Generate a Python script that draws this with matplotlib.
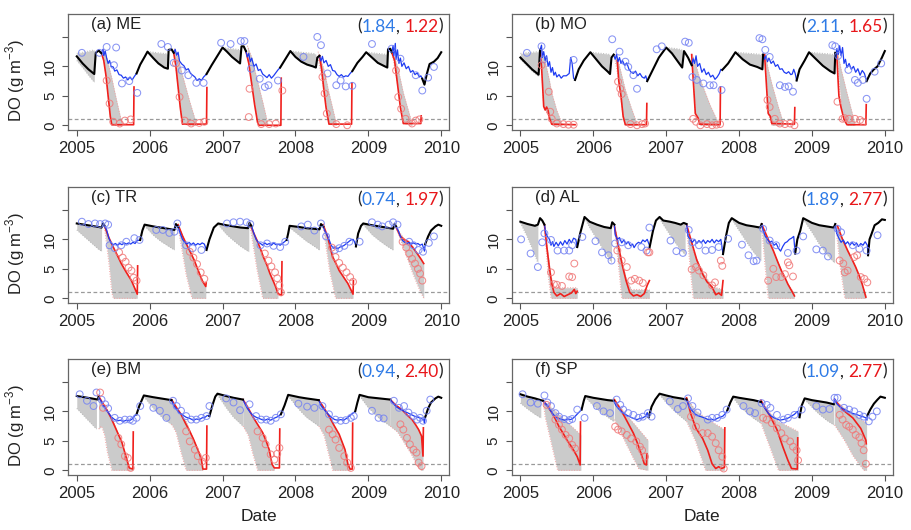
import numpy as np
import matplotlib
matplotlib.use("Agg")
import matplotlib.pyplot as plt

plt.rcParams['font.family'] = ['Liberation Sans', 'DejaVu Sans']
plt.rcParams['mathtext.fontset'] = 'custom'
plt.rcParams['mathtext.rm'] = 'Liberation Sans'

# ---------------------------------------------------------------
# data: (decimal year, DO g m-3); None = gap
# band entries are (year, lower, upper)
# ---------------------------------------------------------------

# (a) ME
me_black = [(2005.00, 11.7), (2005.08, 10.5), (2005.16, 9.5), (2005.24, 8.7), (2005.26, 12.3), (2005.30, 12.7), (2005.34, 12.2), None,
            (2005.82, 8.8), (2005.87, 10.3), (2005.93, 11.6), (2005.97, 12.5), (2006.05, 11.4), (2006.12, 10.5), (2006.20, 9.8), (2006.25, 9.6), (2006.26, 12.8), (2006.30, 12.9), (2006.33, 12.3), None,
            (2006.78, 8.7), (2006.85, 10.2), (2006.93, 11.8), (2007.00, 13.2), (2007.06, 12.5), (2007.13, 11.6), (2007.20, 10.9), (2007.24, 10.5), (2007.26, 13.4), (2007.29, 13.4), (2007.32, 12.6), None,
            (2007.79, 9.8), (2007.85, 11.0), (2007.93, 12.6), (2008.00, 11.6), (2008.08, 10.8), (2008.16, 10.3), (2008.24, 10.0), (2008.28, 9.8), (2008.30, 11.5), (2008.33, 11.8), None,
            (2008.78, 9.2), (2008.85, 10.6), (2008.92, 11.6), (2008.97, 12.4), (2009.05, 11.5), (2009.13, 10.6), (2009.21, 10.1), (2009.26, 9.8), (2009.27, 12.9), (2009.30, 13.0), (2009.32, 12.4), None,
            (2009.74, 7.9), (2009.77, 6.9), (2009.80, 8.6), (2009.84, 10.4), (2009.90, 10.8), (2009.95, 11.4), (2010.00, 12.4)]
me_blue = [(2005.34, 12.3), (2005.36, 12.9), (2005.37, 11.8), (2005.39, 12.6), (2005.41, 11.4), (2005.43, 10.5), (2005.45, 11.0), (2005.47, 10.0), (2005.50, 9.9), (2005.52, 9.2), (2005.55, 9.4), (2005.58, 8.6), (2005.61, 8.5), (2005.64, 8.0), (2005.67, 8.2), (2005.70, 7.7), (2005.73, 8.2), (2005.76, 7.7), (2005.79, 8.3), (2005.82, 8.8), None,
           (2006.33, 12.3), (2006.35, 12.9), (2006.37, 11.9), (2006.39, 12.4), (2006.41, 10.9), (2006.44, 10.4), (2006.47, 10.1), (2006.50, 9.4), (2006.53, 9.6), (2006.56, 8.8), (2006.59, 8.5), (2006.62, 8.2), (2006.65, 7.6), (2006.68, 7.9), (2006.71, 7.6), (2006.74, 8.2), (2006.78, 8.7), None,
           (2007.32, 12.6), (2007.34, 11.6), (2007.36, 12.2), (2007.38, 10.8), (2007.40, 11.4), (2007.43, 10.0), (2007.46, 10.4), (2007.49, 9.3), (2007.52, 9.5), (2007.55, 8.7), (2007.58, 8.4), (2007.61, 8.1), (2007.64, 8.6), (2007.67, 8.0), (2007.70, 8.4), (2007.73, 8.9), (2007.76, 9.4), (2007.79, 9.8), None,
           (2008.33, 11.8), (2008.35, 10.9), (2008.37, 11.7), (2008.39, 10.6), (2008.42, 11.0), (2008.45, 10.0), (2008.48, 10.3), (2008.51, 9.3), (2008.54, 9.2), (2008.57, 8.6), (2008.60, 8.3), (2008.63, 8.6), (2008.66, 8.2), (2008.69, 8.4), (2008.72, 8.3), (2008.75, 8.8), (2008.78, 9.2), None,
           (2009.32, 12.4), (2009.34, 13.5), (2009.35, 11.8), (2009.37, 13.9), (2009.38, 11.2), (2009.40, 12.8), (2009.42, 10.5), (2009.44, 11.4), (2009.46, 10.0), (2009.49, 10.6), (2009.52, 9.6), (2009.55, 10.0), (2009.58, 9.0), (2009.61, 9.3), (2009.64, 8.6), (2009.67, 8.9), (2009.70, 8.2), (2009.72, 8.4), (2009.74, 7.9)]
me_red = [(2005.34, 12.2), (2005.37, 11.0), (2005.40, 8.5), (2005.43, 5.0), (2005.46, 1.5), (2005.48, 0.1), (2005.78, 0.1), (2005.785, 6.5), None,
          (2006.33, 12.3), (2006.36, 10.0), (2006.39, 6.5), (2006.42, 3.0), (2006.45, 0.2), (2006.78, 0.2), (2006.785, 6.4), None,
          (2007.32, 12.6), (2007.36, 10.5), (2007.40, 7.0), (2007.44, 3.5), (2007.48, 0.5), (2007.50, 0.0), (2007.80, 0.0), (2007.805, 8.0), None,
          (2008.33, 11.8), (2008.36, 9.5), (2008.39, 6.0), (2008.42, 3.0), (2008.46, 0.2), (2008.77, 0.2), (2008.775, 7.2), None,
          (2009.32, 12.4), (2009.36, 11.0), (2009.40, 7.0), (2009.44, 3.0), (2009.48, 0.3), (2009.72, 0.3), (2009.725, 1.6)]
me_band = [(2005.00, 11.0, 12.2), (2005.08, 9.8, 12.4), (2005.16, 8.5, 12.6), (2005.24, 7.3, 12.8), None,
           (2005.36, 12.0, 13.0), (2005.40, 8.5, 12.0), (2005.46, 1.5, 9.0), (2005.48, 0.0, 8.0), (2005.55, 0.0, 4.0), (2005.62, 0.0, 0.3), None,
           (2005.97, 12.5, 12.5), (2006.05, 11.4, 12.4), (2006.12, 10.5, 12.3), (2006.20, 9.8, 12.2), (2006.25, 9.6, 12.1), None,
           (2006.34, 12.0, 13.0), (2006.39, 6.5, 11.5), (2006.45, 0.2, 8.5), (2006.55, 0.0, 4.0), (2006.64, 0.0, 0.3), None,
           (2007.00, 13.2, 13.2), (2007.06, 12.5, 13.1), (2007.13, 11.6, 13.0), (2007.20, 10.9, 12.9), (2007.24, 10.5, 12.8), None,
           (2007.34, 12.0, 13.5), (2007.40, 7.0, 11.5), (2007.48, 0.5, 7.5), (2007.55, 0.0, 4.0), (2007.62, 0.0, 0.3), None,
           (2007.93, 12.6, 12.6), (2008.00, 11.6, 12.5), (2008.08, 10.8, 12.4), (2008.16, 10.3, 12.3), (2008.24, 10.0, 12.2), (2008.28, 9.8, 12.1), None,
           (2008.31, 11.5, 12.5), (2008.39, 6.0, 9.5), (2008.46, 0.2, 5.5), (2008.56, 0.0, 0.3), None,
           (2008.97, 12.4, 12.4), (2009.05, 11.5, 12.3), (2009.13, 10.6, 12.2), (2009.21, 10.1, 12.1), (2009.26, 9.8, 12.0), None,
           (2009.33, 12.0, 12.5), (2009.40, 7.0, 10.0), (2009.48, 0.3, 5.5), (2009.60, 0.0, 0.3)]
me_obs_epi = [(2005.07, 12.3), (2005.31, 12.3), (2005.41, 13.3), (2005.54, 13.2), (2005.51, 10.2), (2005.62, 7.1), (2005.72, 7.5), (2005.83, 5.5),
              (2006.16, 13.8), (2006.25, 13.3), (2006.33, 10.6), (2006.44, 9.3), (2006.53, 8.5), (2006.64, 7.2), (2006.74, 7.2),
              (2006.98, 14.0), (2007.11, 13.8), (2007.25, 14.3), (2007.30, 14.3), (2007.39, 9.6), (2007.51, 7.9), (2007.58, 6.5), (2007.63, 6.8), (2007.76, 7.6),
              (2008.11, 11.6), (2008.30, 15.0), (2008.35, 13.6), (2008.44, 8.8), (2008.56, 6.8), (2008.62, 7.6), (2008.69, 6.6), (2008.78, 6.7),
              (2009.05, 13.8), (2009.32, 13.0), (2009.44, 11.3), (2009.65, 8.5), (2009.74, 5.9), (2009.82, 8.1), (2009.90, 9.9)]
me_obs_hyp = [(2005.41, 7.6), (2005.45, 3.7), (2005.50, 0.6), (2005.59, 0.3), (2005.66, 0.8), (2005.74, 1.0),
              (2006.36, 10.5), (2006.41, 4.8), (2006.48, 0.8), (2006.57, 0.3), (2006.68, 0.4), (2006.75, 0.6),
              (2007.36, 1.4), (2007.37, 6.2), (2007.53, 0.2), (2007.64, 0.2), (2007.73, 0.3), (2007.82, 5.9),
              (2008.37, 8.2), (2008.40, 5.4), (2008.43, 2.0), (2008.56, 0.2), (2008.71, 0.0),
              (2009.38, 9.3), (2009.41, 4.8), (2009.45, 2.8), (2009.51, 1.1), (2009.60, 0.3), (2009.65, 0.8), (2009.70, 1.0)]
me_rmse = ("1.84", "1.22")

# (b) MO
mo_black = [(2005.00, 11.5), (2005.08, 10.5), (2005.16, 9.5), (2005.25, 8.6), (2005.27, 12.8), None,
            (2005.75, 7.7), (2005.80, 9.5), (2005.87, 11.0), (2005.96, 12.4), (2006.04, 11.2), (2006.12, 10.0), (2006.20, 9.1), (2006.23, 8.7), (2006.25, 11.5), (2006.28, 12.0), None,
            (2006.74, 7.5), (2006.80, 9.0), (2006.90, 11.5), (2007.00, 13.2), (2007.08, 12.2), (2007.15, 11.0), (2007.22, 9.8), (2007.245, 12.6), (2007.30, 11.5), (2007.35, 10.2), None,
            (2007.77, 9.4), (2007.85, 10.5), (2007.95, 12.4), (2008.05, 11.2), (2008.15, 10.3), (2008.25, 9.9), (2008.32, 9.5), (2008.33, 12.0), None,
            (2008.79, 7.6), (2008.83, 9.5), (2008.90, 11.0), (2008.96, 12.4), (2009.05, 11.3), (2009.15, 10.1), (2009.25, 9.2), (2009.31, 8.8), (2009.32, 12.3), None,
            (2009.75, 7.5), (2009.80, 8.8), (2009.85, 9.5), (2009.90, 10.0), (2009.96, 11.5), (2010.00, 12.6)]
mo_blue = [(2005.27, 12.8), (2005.29, 13.6), (2005.30, 11.5), (2005.32, 12.5), (2005.34, 11.0), (2005.36, 11.8), (2005.38, 10.0), (2005.40, 10.8), (2005.42, 9.0), (2005.44, 9.8), (2005.46, 8.5), (2005.48, 9.0), (2005.50, 8.2), (2005.53, 8.6), (2005.56, 8.0), (2005.59, 8.4), (2005.63, 8.4), (2005.67, 8.8), (2005.69, 11.5), (2005.71, 10.5), (2005.73, 8.0), (2005.75, 7.7), None,
           (2006.28, 12.0), (2006.30, 11.2), (2006.32, 12.0), (2006.34, 10.8), (2006.36, 11.5), (2006.38, 10.5), (2006.40, 11.0), (2006.43, 10.2), (2006.46, 10.6), (2006.49, 9.5), (2006.52, 9.0), (2006.55, 8.8), (2006.58, 9.2), (2006.61, 8.4), (2006.64, 8.8), (2006.67, 8.2), (2006.70, 8.0), (2006.72, 8.4), (2006.74, 7.5), None,
           (2007.35, 10.2), (2007.37, 11.3), (2007.39, 10.5), (2007.41, 11.8), (2007.43, 10.0), (2007.46, 10.5), (2007.49, 9.0), (2007.52, 9.6), (2007.55, 8.6), (2007.58, 9.0), (2007.61, 8.2), (2007.64, 8.5), (2007.67, 7.8), (2007.70, 8.2), (2007.73, 8.8), (2007.75, 9.5), (2007.77, 9.4), None,
           (2008.33, 12.0), (2008.35, 11.2), (2008.37, 11.8), (2008.39, 10.8), (2008.41, 11.4), (2008.44, 10.5), (2008.47, 10.9), (2008.50, 10.0), (2008.53, 10.3), (2008.56, 9.5), (2008.59, 9.6), (2008.62, 9.0), (2008.65, 8.8), (2008.68, 9.1), (2008.71, 8.6), (2008.73, 8.7), (2008.75, 9.5), (2008.77, 8.8), (2008.79, 7.6), None,
           (2009.32, 12.3), (2009.33, 11.5), (2009.34, 13.0), (2009.36, 12.0), (2009.38, 13.5), (2009.40, 11.8), (2009.42, 13.2), (2009.44, 10.5), (2009.46, 11.2), (2009.48, 9.8), (2009.51, 10.5), (2009.54, 9.5), (2009.57, 10.0), (2009.60, 9.0), (2009.63, 9.6), (2009.66, 8.5), (2009.69, 9.3), (2009.72, 8.8), (2009.75, 7.5)]
mo_red = [(2005.27, 12.8), (2005.29, 10.0), (2005.31, 5.5), (2005.32, 3.2), (2005.34, 2.6), (2005.36, 3.1), (2005.38, 2.5), (2005.40, 1.2), (2005.43, 0.2), (2005.75, 0.1), None,
          (2006.33, 11.0), (2006.35, 7.5), (2006.38, 5.0), (2006.41, 1.5), (2006.44, 0.1), (2006.73, 0.1), (2006.735, 3.7), None,
          (2007.35, 12.0), (2007.38, 6.0), (2007.40, 2.0), (2007.42, 1.6), (2007.44, 1.2), (2007.46, 0.2), (2007.74, 0.1), (2007.745, 6.5), None,
          (2008.35, 12.0), (2008.38, 6.0), (2008.40, 2.0), (2008.43, 1.5), (2008.45, 0.3), (2008.76, 0.2), (2008.765, 3.0), None,
          (2009.34, 12.0), (2009.37, 5.0), (2009.40, 3.0), (2009.44, 1.0), (2009.48, 0.1), (2009.74, 0.1), (2009.745, 3.5)]
mo_band = [(2005.00, 11.2, 12.2), (2005.08, 10.2, 12.3), (2005.16, 9.2, 12.4), (2005.25, 8.3, 12.5), None,
           (2005.29, 10.0, 13.0), (2005.32, 3.2, 12.0), (2005.40, 1.2, 7.5), (2005.43, 0.0, 5.5), (2005.50, 0.0, 2.5), (2005.57, 0.0, 0.3), None,
           (2005.96, 12.4, 12.4), (2006.04, 11.2, 12.3), (2006.12, 10.0, 12.2), (2006.20, 9.1, 12.1), (2006.23, 8.7, 12.0), None,
           (2006.30, 11.0, 12.0), (2006.35, 7.5, 10.5), (2006.41, 1.5, 7.5), (2006.44, 0.0, 6.0), (2006.52, 0.0, 3.0), (2006.60, 0.0, 0.3), None,
           (2007.00, 13.2, 13.2), (2007.08, 12.2, 13.1), (2007.15, 11.0, 13.0), (2007.22, 9.8, 12.8), None,
           (2007.36, 11.0, 12.0), (2007.40, 2.0, 10.5), (2007.46, 0.0, 8.0), (2007.60, 0.0, 3.5), (2007.72, 0.0, 0.3), None,
           (2007.95, 12.4, 12.4), (2008.05, 11.2, 12.3), (2008.15, 10.3, 12.2), (2008.25, 9.9, 12.1), (2008.32, 9.5, 12.0), None,
           (2008.36, 11.0, 12.0), (2008.40, 2.0, 9.5), (2008.45, 0.0, 7.0), (2008.53, 0.0, 3.5), (2008.61, 0.0, 0.3), None,
           (2008.96, 12.4, 12.4), (2009.05, 11.3, 12.3), (2009.15, 10.1, 12.2), (2009.25, 9.2, 12.1), (2009.31, 8.8, 12.0), None,
           (2009.35, 11.0, 12.5), (2009.40, 3.0, 9.5), (2009.48, 0.0, 5.5), (2009.59, 0.0, 0.3)]
mo_obs_epi = [(2005.09, 12.3), (2005.29, 13.4), (2005.32, 11.2), (2005.73, 11.1),
              (2006.26, 14.6), (2006.36, 12.5), (2006.44, 10.8), (2006.48, 9.9), (2006.55, 8.5), (2006.60, 6.2), (2006.87, 12.9), (2006.94, 13.4),
              (2007.26, 14.2), (2007.31, 14.0), (2007.36, 8.2), (2007.42, 7.7), (2007.51, 7.1), (2007.60, 6.8), (2007.65, 6.8), (2007.76, 6.0),
              (2008.28, 14.8), (2008.32, 14.6), (2008.36, 12.8), (2008.42, 11.6), (2008.56, 6.8), (2008.63, 6.5), (2008.68, 6.6), (2008.74, 5.7),
              (2009.28, 13.6), (2009.32, 13.4), (2009.36, 11.8), (2009.50, 9.4), (2009.59, 7.7), (2009.63, 7.2), (2009.70, 7.7), (2009.75, 4.5), (2009.86, 9.1), (2009.95, 10.5)]
mo_obs_hyp = [(2005.29, 10.2), (2005.39, 5.7), (2005.41, 2.3), (2005.43, 1.1), (2005.50, 0.3), (2005.59, 0.2), (2005.66, 0.1), (2005.73, 0.1),
              (2006.34, 7.4), (2006.37, 6.2), (2006.39, 5.3), (2006.51, 0.2), (2006.60, 0.0), (2006.67, 0.2), (2006.71, 0.3),
              (2007.37, 1.1), (2007.41, 0.6), (2007.47, 0.0), (2007.56, 0.2), (2007.63, 0.0), (2007.69, 0.1), (2007.74, 0.2),
              (2008.39, 4.3), (2008.42, 3.1), (2008.49, 1.1), (2008.56, 0.3), (2008.63, 0.2), (2008.70, 0.3), (2008.76, 0.0),
              (2009.35, 4.0), (2009.42, 1.1), (2009.45, 1.2), (2009.51, 1.1), (2009.59, 1.1), (2009.66, 0.9), (2009.70, 0.6)]
mo_rmse = ("2.11", "1.65")

# (c) TR
tr_black = [(2005.00, 12.7), (2005.10, 12.5), (2005.20, 12.3), (2005.30, 12.1), (2005.34, 12.0), (2005.36, 12.7), (2005.38, 12.3), None,
            (2005.87, 9.9), (2005.90, 11.5), (2005.93, 12.5), (2006.05, 12.2), (2006.15, 12.0), (2006.25, 11.8), (2006.34, 11.6), (2006.36, 12.6), (2006.39, 12.1), None,
            (2006.78, 8.2), (2006.82, 10.0), (2006.88, 12.0), (2006.94, 12.7), (2007.05, 12.4), (2007.15, 12.2), (2007.25, 12.0), (2007.35, 11.9), (2007.37, 12.8), (2007.40, 12.2), None,
            (2007.88, 9.9), (2007.90, 11.0), (2007.92, 12.3), (2008.05, 12.1), (2008.15, 11.9), (2008.25, 11.8), (2008.33, 11.7), (2008.35, 12.6), (2008.38, 12.2), None,
            (2008.83, 8.8), (2008.86, 11.0), (2008.90, 12.3), (2008.93, 12.7), (2009.05, 12.4), (2009.15, 12.2), (2009.25, 12.0), (2009.34, 11.8), (2009.36, 12.6), (2009.38, 12.2), None,
            (2009.78, 9.2), (2009.82, 10.5), (2009.86, 11.5), (2009.92, 12.2), (2009.96, 12.5), (2010.00, 12.3)]
tr_blue = [(2005.38, 12.3), (2005.41, 11.6), (2005.44, 10.2), (2005.47, 9.4), (2005.50, 9.1), (2005.53, 9.3), (2005.56, 9.0), (2005.59, 9.3), (2005.62, 9.1), (2005.65, 9.4), (2005.68, 9.2), (2005.71, 9.4), (2005.74, 9.2), (2005.77, 9.5), (2005.80, 9.3), (2005.83, 9.8), (2005.87, 9.9), None,
           (2006.39, 12.1), (2006.42, 11.0), (2006.45, 10.0), (2006.48, 9.5), (2006.51, 9.2), (2006.54, 9.5), (2006.57, 9.1), (2006.60, 9.4), (2006.63, 9.0), (2006.66, 9.3), (2006.69, 9.1), (2006.72, 9.4), (2006.75, 9.2), (2006.78, 8.2), None,
           (2007.40, 12.2), (2007.43, 11.0), (2007.46, 10.0), (2007.49, 9.5), (2007.52, 9.3), (2007.55, 9.0), (2007.58, 9.4), (2007.61, 9.1), (2007.64, 9.3), (2007.67, 9.0), (2007.70, 9.4), (2007.73, 9.1), (2007.76, 9.2), (2007.79, 9.0), (2007.82, 9.3), (2007.85, 9.6), (2007.88, 9.9), None,
           (2008.38, 12.2), (2008.40, 11.5), (2008.43, 10.8), (2008.46, 10.0), (2008.49, 9.0), (2008.52, 8.5), (2008.55, 8.6), (2008.58, 8.4), (2008.61, 8.7), (2008.64, 8.8), (2008.67, 9.0), (2008.70, 9.3), (2008.73, 9.6), (2008.76, 9.9), (2008.79, 10.0), (2008.81, 9.6), (2008.83, 8.8), None,
           (2009.38, 12.2), (2009.41, 11.5), (2009.44, 10.5), (2009.47, 9.8), (2009.50, 9.5), (2009.53, 9.3), (2009.56, 9.5), (2009.59, 9.2), (2009.62, 9.4), (2009.65, 9.2), (2009.68, 9.3), (2009.71, 9.0), (2009.74, 9.2), (2009.77, 8.0), (2009.78, 9.2)]
tr_red = [(2005.38, 12.3), (2005.44, 10.3), (2005.50, 8.7), (2005.56, 7.2), (2005.61, 5.9), (2005.68, 4.4), (2005.75, 3.0), (2005.83, 0.7), (2005.835, 5.5), None,
          (2006.39, 12.5), (2006.45, 10.6), (2006.50, 9.3), (2006.56, 7.8), (2006.61, 6.5), (2006.67, 4.6), (2006.72, 3.0), (2006.77, 2.0), (2006.775, 2.6), None,
          (2007.38, 12.5), (2007.43, 11.0), (2007.47, 9.9), (2007.52, 8.4), (2007.56, 7.0), (2007.61, 5.6), (2007.65, 4.2), (2007.70, 2.8), (2007.73, 1.9), (2007.76, 0.8), (2007.81, 0.5), (2007.815, 6.2), None,
          (2008.38, 12.5), (2008.44, 10.5), (2008.51, 7.0), (2008.56, 5.8), (2008.60, 4.7), (2008.66, 3.6), (2008.72, 2.5), (2008.79, 0.7), (2008.795, 3.0), None,
          (2009.38, 12.1), (2009.44, 10.5), (2009.50, 9.9), (2009.55, 9.6), (2009.61, 8.6), (2009.67, 7.6), (2009.72, 6.7), (2009.76, 5.9)]
tr_band = [(2005.00, 11.6, 12.7), (2005.10, 10.5, 12.5), (2005.20, 9.4, 12.3), (2005.30, 8.3, 12.1), (2005.34, 8.0, 12.0), None,
           (2005.38, 12.0, 12.3), (2005.44, 6.0, 10.3), (2005.48, 1.0, 9.2), (2005.50, 0.0, 8.7), (2005.61, 0.0, 5.9), (2005.75, 0.0, 3.0), (2005.83, 0.0, 0.7), None,
           (2005.93, 12.3, 12.5), (2006.05, 10.7, 12.2), (2006.15, 9.7, 12.0), (2006.25, 8.9, 11.8), (2006.34, 8.2, 11.6), None,
           (2006.39, 12.0, 12.5), (2006.50, 4.0, 9.3), (2006.58, 0.0, 7.2), (2006.67, 0.0, 4.6), (2006.77, 0.0, 2.0), None,
           (2006.94, 12.5, 12.7), (2007.05, 10.9, 12.4), (2007.15, 9.8, 12.2), (2007.25, 8.8, 12.0), (2007.36, 7.9, 11.9), None,
           (2007.38, 12.0, 12.5), (2007.47, 5.0, 9.9), (2007.55, 0.0, 7.3), (2007.65, 0.0, 4.2), (2007.76, 0.0, 0.8), None,
           (2007.92, 12.0, 12.3), (2008.05, 10.7, 12.1), (2008.15, 9.7, 11.9), (2008.25, 8.9, 11.8), (2008.33, 8.2, 11.7), None,
           (2008.38, 12.0, 12.5), (2008.47, 4.5, 9.0), (2008.55, 0.0, 6.0), (2008.66, 0.0, 3.6), (2008.79, 0.0, 0.7), None,
           (2008.93, 12.5, 12.7), (2009.05, 10.8, 12.4), (2009.15, 9.8, 12.2), (2009.25, 8.9, 12.0), (2009.34, 8.2, 11.8), None,
           (2009.38, 12.0, 12.1), (2009.50, 8.0, 9.9), (2009.60, 4.5, 9.0), (2009.70, 1.5, 7.0), (2009.76, 0.0, 5.9)]
tr_obs_epi = [(2005.07, 13.0), (2005.16, 12.6), (2005.25, 12.7), (2005.32, 12.6), (2005.39, 12.7), (2005.43, 12.5), (2005.45, 9.0), (2005.52, 8.5), (2005.61, 9.0), (2005.68, 9.6), (2005.79, 10.2), (2005.86, 9.9),
              (2006.09, 11.6), (2006.18, 11.6), (2006.27, 11.1), (2006.34, 11.3), (2006.38, 12.7), (2006.50, 9.0), (2006.59, 8.5), (2006.71, 8.2),
              (2007.06, 12.7), (2007.15, 12.9), (2007.24, 13.0), (2007.33, 12.9), (2007.38, 12.6), (2007.52, 9.0), (2007.61, 9.3), (2007.70, 8.9), (2007.79, 8.7), (2007.86, 9.6),
              (2008.08, 12.2), (2008.17, 12.5), (2008.26, 11.5), (2008.35, 12.7), (2008.42, 10.5), (2008.54, 8.2), (2008.60, 8.5), (2008.67, 8.9), (2008.74, 9.6), (2008.88, 9.6),
              (2009.05, 12.9), (2009.13, 12.5), (2009.19, 12.2), (2009.28, 12.5), (2009.34, 12.9), (2009.40, 12.5), (2009.56, 9.6), (2009.62, 9.0), (2009.69, 8.2), (2009.75, 7.9), (2009.83, 9.4), (2009.90, 10.5)]
tr_obs_hyp = [(2005.58, 7.8), (2005.63, 6.9), (2005.67, 6.2), (2005.71, 5.2), (2005.75, 4.7), (2005.78, 3.5), (2005.82, 3.0),
              (2006.55, 7.9), (2006.60, 6.9), (2006.65, 5.8), (2006.70, 4.4), (2006.75, 3.3),
              (2007.58, 7.6), (2007.63, 6.4), (2007.67, 5.4), (2007.72, 4.4), (2007.75, 3.4), (2007.78, 2.2), (2007.80, 1.0),
              (2008.50, 8.6), (2008.55, 7.0), (2008.60, 6.0), (2008.65, 5.2), (2008.70, 4.4), (2008.75, 3.6), (2008.79, 2.8),
              (2009.47, 9.6), (2009.52, 8.6), (2009.56, 7.6), (2009.60, 6.7), (2009.64, 5.9), (2009.68, 5.0), (2009.71, 4.2), (2009.74, 3.0)]
tr_rmse = ("0.74", "1.97")

# (d) AL
al_black = [(2005.00, 13.0), (2005.10, 12.6), (2005.20, 12.3), (2005.24, 12.5), (2005.27, 13.6), (2005.30, 13.2), (2005.33, 12.5), None,
            (2005.78, 8.7), (2005.82, 11.0), (2005.88, 13.8), (2005.95, 13.0), (2006.05, 12.5), (2006.15, 12.1), (2006.24, 11.9), (2006.26, 12.9), (2006.29, 12.5), None,
            (2006.77, 8.5), (2006.82, 11.5), (2006.86, 13.2), (2006.91, 13.8), (2006.96, 13.2), (2007.05, 13.0), (2007.12, 12.8), (2007.20, 12.5), (2007.24, 12.8), (2007.28, 12.6), None,
            (2007.78, 7.5), (2007.82, 10.5), (2007.86, 12.8), (2007.90, 13.6), (2008.00, 12.8), (2008.10, 12.4), (2008.20, 12.2), (2008.29, 12.0), (2008.31, 12.6), None,
            (2008.77, 7.6), (2008.80, 10.0), (2008.84, 11.5), (2008.88, 13.6), (2009.00, 12.8), (2009.10, 12.4), (2009.20, 12.2), (2009.30, 12.0), (2009.32, 12.6), None,
            (2009.77, 7.3), (2009.79, 10.0), (2009.82, 11.0), (2009.86, 12.4), (2009.91, 12.8), (2009.96, 13.4), (2010.00, 13.3)]
al_blue = [(2005.33, 12.5), (2005.35, 11.0), (2005.37, 10.5), (2005.40, 10.0), (2005.42, 9.0), (2005.44, 9.6), (2005.46, 8.8), (2005.49, 9.5), (2005.52, 8.9), (2005.55, 9.6), (2005.58, 9.0), (2005.61, 9.8), (2005.64, 9.2), (2005.67, 10.0), (2005.70, 9.4), (2005.73, 10.2), (2005.76, 10.0), (2005.78, 8.7), None,
           (2006.29, 12.5), (2006.30, 10.8), (2006.33, 10.0), (2006.36, 10.3), (2006.39, 9.4), (2006.42, 9.9), (2006.45, 9.2), (2006.48, 9.6), (2006.51, 8.9), (2006.54, 9.2), (2006.56, 8.6), (2006.59, 9.2), (2006.62, 9.5), (2006.65, 9.3), (2006.68, 9.9), (2006.71, 9.6), (2006.74, 10.0), (2006.77, 9.0), None,
           (2007.28, 12.6), (2007.30, 10.5), (2007.33, 10.0), (2007.36, 9.5), (2007.39, 10.0), (2007.42, 9.3), (2007.45, 9.8), (2007.48, 9.4), (2007.51, 9.9), (2007.54, 9.3), (2007.57, 9.8), (2007.60, 9.5), (2007.63, 10.0), (2007.66, 9.4), (2007.69, 9.9), (2007.72, 9.6), (2007.75, 10.0), (2007.78, 7.5), None,
           (2008.31, 12.6), (2008.33, 11.5), (2008.36, 10.5), (2008.39, 10.0), (2008.42, 9.5), (2008.45, 9.7), (2008.48, 9.0), (2008.51, 9.3), (2008.54, 8.5), (2008.57, 8.0), (2008.60, 8.8), (2008.63, 9.4), (2008.66, 9.6), (2008.69, 10.0), (2008.72, 10.2), (2008.75, 10.5), (2008.77, 7.6), None,
           (2009.32, 12.6), (2009.34, 11.0), (2009.37, 10.2), (2009.40, 9.5), (2009.43, 9.9), (2009.46, 9.2), (2009.49, 9.6), (2009.52, 9.0), (2009.55, 9.5), (2009.58, 9.0), (2009.61, 9.4), (2009.64, 8.8), (2009.67, 9.3), (2009.70, 9.0), (2009.73, 9.6), (2009.76, 9.0), (2009.77, 7.3)]
al_red = [(2005.33, 12.5), (2005.36, 9.0), (2005.40, 5.0), (2005.43, 2.5), (2005.46, 1.0), (2005.50, 0.4), (2005.55, 0.8), (2005.60, 0.3), (2005.65, 0.6), (2005.70, 0.9), (2005.74, 1.5), (2005.76, 0.8), (2005.78, 1.2), None,
          (2006.29, 12.2), (2006.35, 8.5), (2006.40, 5.5), (2006.45, 3.0), (2006.50, 1.0), (2006.55, 0.4), (2006.60, 0.6), (2006.65, 0.3), (2006.70, 0.8), (2006.74, 2.2), (2006.77, 3.0), None,
          (2007.28, 12.5), (2007.35, 9.5), (2007.42, 6.5), (2007.50, 4.1), (2007.56, 2.8), (2007.63, 1.9), (2007.68, 0.6), (2007.72, 0.9), (2007.76, 0.5), (2007.78, 3.0), None,
          (2008.31, 12.6), (2008.40, 10.0), (2008.47, 8.1), (2008.53, 6.2), (2008.58, 4.7), (2008.63, 3.5), (2008.67, 2.4), (2008.72, 1.3), (2008.76, 0.4), None,
          (2009.35, 12.3), (2009.42, 10.0), (2009.49, 8.1), (2009.55, 6.6), (2009.60, 5.3), (2009.65, 3.8), (2009.69, 2.4), (2009.74, 0.2)]
al_band = [(2005.00, 12.8, 13.0), (2005.08, 10.8, 12.7), (2005.16, 8.5, 12.4), (2005.24, 6.0, 12.5), None,
           (2005.33, 12.0, 12.5), (2005.38, 4.0, 7.5), (2005.42, 0.0, 3.8), (2005.46, 0.0, 1.8), (2005.78, 0.0, 1.8), None,
           (2005.88, 13.6, 13.8), (2005.95, 12.0, 13.0), (2006.05, 10.0, 12.5), (2006.15, 8.0, 12.1), (2006.25, 6.1, 11.9), None,
           (2006.29, 12.0, 12.5), (2006.35, 5.0, 9.0), (2006.39, 0.0, 6.5), (2006.45, 0.0, 3.5), (2006.52, 0.0, 1.5), (2006.77, 0.0, 1.5), None,
           (2006.91, 13.5, 13.8), (2006.96, 12.5, 13.2), (2007.05, 10.8, 13.0), (2007.12, 9.5, 12.8), (2007.20, 8.2, 12.5), (2007.26, 7.4, 12.7), None,
           (2007.28, 12.0, 12.5), (2007.33, 5.0, 10.0), (2007.37, 0.0, 8.0), (2007.50, 0.0, 4.5), (2007.63, 0.0, 2.0), (2007.78, 0.0, 1.5), None,
           (2007.90, 13.4, 13.6), (2008.00, 11.5, 12.8), (2008.10, 9.6, 12.4), (2008.20, 7.8, 12.2), (2008.30, 6.4, 12.0), None,
           (2008.31, 12.0, 12.6), (2008.36, 5.0, 11.0), (2008.40, 0.0, 10.0), (2008.53, 0.0, 6.2), (2008.67, 0.0, 2.4), (2008.76, 0.0, 0.8), None,
           (2008.88, 13.4, 13.6), (2009.00, 11.2, 12.8), (2009.10, 9.2, 12.4), (2009.20, 7.5, 12.2), (2009.31, 6.0, 12.0), None,
           (2009.33, 12.0, 12.3), (2009.38, 6.0, 11.0), (2009.45, 0.0, 9.0), (2009.60, 0.0, 5.3), (2009.74, 0.0, 0.5)]
al_obs_epi = [(2005.01, 10.0), (2005.14, 7.6), (2005.24, 5.3), (2005.30, 9.5), (2005.33, 11.0), (2005.42, 9.9), (2005.51, 8.1), (2005.60, 8.1), (2005.67, 8.1), (2005.71, 9.0), (2005.85, 10.4),
              (2006.03, 9.7), (2006.12, 7.8), (2006.21, 7.3), (2006.25, 6.4), (2006.30, 9.3), (2006.39, 9.5), (2006.48, 9.0), (2006.66, 8.7), (2006.73, 8.1), (2006.77, 12.0),
              (2007.06, 9.8), (2007.14, 8.0), (2007.23, 7.7), (2007.31, 11.6), (2007.36, 9.5), (2007.45, 9.0), (2007.54, 8.1), (2007.63, 8.2), (2007.72, 8.7), (2007.85, 10.1),
              (2008.04, 9.1), (2008.13, 7.3), (2008.20, 6.3), (2008.24, 6.4), (2008.33, 11.8), (2008.42, 9.8), (2008.51, 9.0), (2008.67, 7.7), (2008.79, 8.1), (2008.88, 10.5),
              (2009.06, 8.3), (2009.15, 8.1), (2009.22, 7.1), (2009.35, 11.8), (2009.40, 11.2), (2009.56, 9.0), (2009.65, 8.4), (2009.75, 8.1), (2009.90, 10.7)]
al_obs_hyp = [(2005.42, 4.4), (2005.46, 2.4), (2005.50, 2.3), (2005.57, 2.1), (2005.67, 3.7), (2005.71, 3.6), (2005.74, 5.9),
              (2006.33, 8.1), (2006.39, 6.4), (2006.46, 5.3), (2006.52, 3.0), (2006.57, 3.3), (2006.63, 3.0), (2006.68, 2.6), (2006.75, 7.8), (2006.77, 7.8),
              (2007.35, 4.9), (2007.41, 5.3), (2007.45, 4.7), (2007.51, 3.9), (2007.63, 2.2), (2007.67, 2.7), (2007.75, 6.4), (2007.77, 5.5),
              (2008.40, 3.0), (2008.47, 5.0), (2008.51, 3.6), (2008.58, 3.6), (2008.63, 4.1), (2008.67, 6.1), (2008.69, 5.6), (2008.74, 3.7),
              (2009.38, 6.4), (2009.43, 5.9), (2009.45, 4.4), (2009.49, 4.7), (2009.58, 7.0), (2009.62, 7.3), (2009.67, 3.6), (2009.72, 3.3), (2009.76, 2.7)]
al_rmse = ("1.89", "2.77")

# (e) BM
bm_black = [(2005.00, 12.6), (2005.10, 12.4), (2005.20, 12.2), (2005.29, 12.0), (2005.30, 12.6), None,
            (2005.82, 9.5), (2005.86, 11.0), (2005.92, 12.7), (2006.05, 12.4), (2006.15, 12.2), (2006.25, 12.0), (2006.30, 11.9), None,
            (2006.82, 9.2), (2006.86, 11.0), (2006.90, 12.5), (2006.93, 13.0), (2007.05, 12.6), (2007.15, 12.3), (2007.28, 12.0), None,
            (2007.80, 9.5), (2007.85, 11.0), (2007.90, 12.8), (2008.05, 12.4), (2008.15, 12.2), (2008.32, 11.9), None,
            (2008.82, 10.0), (2008.85, 11.5), (2008.88, 12.8), (2009.00, 12.4), (2009.15, 12.2), (2009.30, 12.0), None,
            (2009.78, 9.0), (2009.82, 10.5), (2009.86, 11.5), (2009.92, 12.2), (2009.96, 12.5), (2010.00, 12.3)]
bm_blue = [(2005.30, 12.3), (2005.33, 11.8), (2005.36, 11.0), (2005.39, 10.6), (2005.42, 10.0), (2005.45, 9.5), (2005.48, 9.0), (2005.52, 8.6), (2005.56, 8.4), (2005.60, 8.5), (2005.64, 8.3), (2005.68, 8.5), (2005.72, 8.4), (2005.76, 8.7), (2005.79, 9.2), (2005.82, 9.5), None,
           (2006.30, 11.9), (2006.33, 11.0), (2006.36, 10.5), (2006.40, 9.8), (2006.45, 9.4), (2006.50, 9.0), (2006.55, 8.8), (2006.60, 8.5), (2006.64, 8.7), (2006.68, 8.6), (2006.72, 8.9), (2006.76, 9.0), (2006.79, 9.3), (2006.82, 9.2), None,
           (2007.28, 12.0), (2007.31, 11.2), (2007.34, 10.5), (2007.38, 9.8), (2007.42, 9.3), (2007.46, 9.0), (2007.50, 8.8), (2007.54, 8.6), (2007.58, 8.5), (2007.62, 8.7), (2007.66, 8.5), (2007.70, 8.8), (2007.74, 9.0), (2007.77, 9.2), (2007.80, 9.5), None,
           (2008.32, 11.9), (2008.35, 11.0), (2008.38, 10.5), (2008.42, 9.9), (2008.46, 9.4), (2008.50, 8.9), (2008.54, 8.6), (2008.58, 8.5), (2008.62, 8.6), (2008.66, 8.5), (2008.70, 8.8), (2008.74, 9.2), (2008.78, 9.6), (2008.82, 10.0), None,
           (2009.30, 12.0), (2009.34, 11.4), (2009.38, 10.8), (2009.43, 10.4), (2009.48, 10.1), (2009.53, 9.8), (2009.58, 9.5), (2009.63, 9.2), (2009.68, 9.0), (2009.72, 8.8), (2009.76, 8.6), (2009.77, 8.0), (2009.78, 9.0)]
bm_red = [(2005.30, 12.6), (2005.35, 11.5), (2005.41, 10.3), (2005.47, 8.9), (2005.52, 7.5), (2005.57, 6.1), (2005.62, 4.7), (2005.65, 3.4), (2005.68, 2.1), (2005.72, 0.4), (2005.77, 0.2), (2005.775, 6.5), None,
          (2006.30, 12.0), (2006.36, 10.8), (2006.43, 9.5), (2006.49, 8.0), (2006.55, 6.6), (2006.60, 5.3), (2006.64, 4.1), (2006.68, 2.9), (2006.71, 1.8), (2006.73, 0.2), (2006.78, 0.2), (2006.785, 7.5), None,
          (2007.28, 12.0), (2007.35, 10.6), (2007.41, 9.2), (2007.48, 7.8), (2007.55, 6.4), (2007.60, 4.9), (2007.64, 3.5), (2007.68, 1.0), (2007.71, 0.4), (2007.78, 0.4), (2007.785, 7.0), None,
          (2008.32, 11.9), (2008.39, 10.6), (2008.46, 9.2), (2008.53, 7.6), (2008.60, 6.1), (2008.64, 4.8), (2008.68, 3.5), (2008.72, 1.0), (2008.75, 0.2), (2008.78, 0.2), (2008.785, 8.0), None,
          (2009.30, 12.0), (2009.38, 11.0), (2009.46, 10.3), (2009.53, 9.4), (2009.60, 8.6), (2009.65, 7.7), (2009.69, 6.9), (2009.73, 5.8), (2009.75, 2.4), (2009.755, 7.2)]
bm_band = [(2005.00, 10.5, 12.6), (2005.10, 9.2, 12.4), (2005.20, 7.9, 12.2), (2005.27, 7.0, 12.0), None,
           (2005.30, 7.0, 12.6), (2005.34, 7.5, 11.7), (2005.38, 6.0, 10.9), (2005.42, 3.0, 10.2), (2005.48, 0.0, 8.9), (2005.57, 0.0, 6.1), (2005.65, 0.0, 3.4), (2005.72, 0.0, 0.4), (2005.77, 0.0, 0.2), None,
           (2005.92, 12.5, 12.7), (2006.05, 10.5, 12.4), (2006.15, 9.2, 12.2), (2006.25, 8.2, 12.0), (2006.30, 7.8, 11.9), None,
           (2006.30, 7.8, 12.0), (2006.36, 6.5, 10.8), (2006.43, 3.0, 9.5), (2006.50, 0.0, 8.3), (2006.60, 0.0, 5.3), (2006.68, 0.0, 2.9), (2006.73, 0.0, 0.2), None,
           (2006.93, 12.8, 13.0), (2007.05, 10.6, 12.6), (2007.15, 9.0, 12.3), (2007.28, 7.5, 12.0), None,
           (2007.28, 7.5, 12.0), (2007.35, 6.0, 10.6), (2007.41, 3.0, 9.2), (2007.48, 0.0, 7.8), (2007.60, 0.0, 4.9), (2007.68, 0.0, 1.0), (2007.71, 0.0, 0.4), None,
           (2007.90, 12.6, 12.8), (2008.05, 10.3, 12.4), (2008.15, 9.0, 12.2), (2008.32, 7.5, 11.9), None,
           (2008.32, 7.5, 11.9), (2008.39, 6.0, 10.6), (2008.45, 3.0, 9.4), (2008.51, 0.0, 8.1), (2008.64, 0.0, 4.8), (2008.72, 0.0, 1.0), (2008.75, 0.0, 0.2), None,
           (2008.88, 12.6, 12.8), (2009.00, 10.6, 12.4), (2009.15, 8.8, 12.2), (2009.30, 7.5, 12.0), None,
           (2009.30, 7.5, 12.0), (2009.40, 6.5, 10.9), (2009.50, 4.5, 9.8), (2009.60, 2.5, 8.6), (2009.68, 0.5, 7.1), (2009.73, 0.0, 5.8), (2009.75, 0.0, 2.4)]
bm_obs_epi = [(2005.04, 12.9), (2005.14, 11.8), (2005.23, 10.9), (2005.27, 13.2), (2005.34, 12.0), (2005.39, 11.2), (2005.43, 10.5), (2005.52, 8.9), (2005.59, 8.4), (2005.66, 8.6), (2005.73, 8.6), (2005.77, 8.4), (2005.82, 8.9), (2005.87, 10.9),
              (2006.05, 10.6), (2006.14, 10.1), (2006.23, 8.9), (2006.32, 11.8), (2006.37, 10.9), (2006.43, 10.1), (2006.50, 9.2), (2006.57, 8.6), (2006.64, 8.6), (2006.71, 8.9), (2006.78, 9.2), (2006.82, 10.9),
              (2007.05, 12.2), (2007.15, 11.5), (2007.24, 10.2), (2007.37, 11.2), (2007.46, 9.2), (2007.53, 8.6), (2007.60, 8.6), (2007.66, 8.4), (2007.73, 8.9), (2007.80, 9.5),
              (2008.04, 11.3), (2008.16, 10.8), (2008.26, 10.6), (2008.37, 10.9), (2008.46, 9.5), (2008.55, 8.6), (2008.62, 8.4), (2008.69, 8.5), (2008.76, 8.9), (2008.80, 9.2),
              (2009.05, 10.1), (2009.14, 8.9), (2009.21, 8.8), (2009.35, 11.8), (2009.42, 10.6), (2009.49, 10.9), (2009.55, 9.8), (2009.62, 9.2), (2009.67, 8.6), (2009.71, 8.9), (2009.75, 8.4), (2009.80, 10.1), (2009.85, 12.0)]
bm_obs_hyp = [(2005.32, 13.2), (2005.36, 10.6), (2005.57, 5.5), (2005.61, 4.4), (2005.66, 2.4), (2005.70, 2.1), (2005.74, 0.4),
              (2006.50, 6.6), (2006.55, 4.9), (2006.62, 3.5), (2006.66, 2.4), (2006.72, 1.5), (2006.77, 2.1),
              (2007.48, 6.6), (2007.55, 5.5), (2007.59, 4.4), (2007.66, 2.7), (2007.71, 1.8), (2007.75, 2.8), (2007.78, 3.8),
              (2008.46, 6.9), (2008.51, 6.1), (2008.55, 5.2), (2008.60, 3.8), (2008.67, 2.4), (2008.71, 1.3), (2008.76, 0.4),
              (2009.44, 7.8), (2009.48, 6.9), (2009.53, 5.5), (2009.57, 4.4), (2009.62, 3.5), (2009.66, 3.0), (2009.69, 1.3), (2009.73, 0.7)]
bm_rmse = ("0.94", "2.40")

# (f) SP
sp_black = [(2005.00, 12.9), (2005.10, 12.5), (2005.20, 12.2), (2005.28, 11.9), (2005.31, 11.8), None,
            (2005.84, 10.3), (2005.87, 11.8), (2005.89, 12.6), (2006.00, 12.3), (2006.10, 12.1), (2006.20, 11.9), (2006.28, 11.8), None,
            (2006.76, 9.0), (2006.80, 10.8), (2006.85, 12.0), (2006.91, 13.0), (2007.00, 12.7), (2007.10, 12.4), (2007.20, 12.2), (2007.28, 12.0), None,
            (2007.84, 10.2), (2007.88, 11.5), (2007.92, 12.5), (2008.00, 12.3), (2008.10, 12.1), (2008.20, 11.9), (2008.30, 11.6), None,
            (2008.83, 9.0), (2008.86, 11.0), (2008.90, 12.2), (2009.00, 11.9), (2009.10, 11.7), (2009.20, 11.5), (2009.30, 11.2), None,
            (2009.76, 9.3), (2009.80, 10.3), (2009.85, 11.3), (2009.90, 12.0), (2009.94, 12.5), (2010.00, 12.3)]
sp_blue = [(2005.31, 11.8), (2005.34, 11.4), (2005.37, 11.0), (2005.41, 10.2), (2005.45, 9.5), (2005.49, 9.0), (2005.53, 8.8), (2005.57, 8.6), (2005.61, 8.5), (2005.65, 8.7), (2005.69, 8.6), (2005.73, 8.9), (2005.77, 9.4), (2005.80, 9.8), (2005.84, 10.3), None,
           (2006.28, 11.8), (2006.31, 11.0), (2006.35, 10.4), (2006.40, 9.8), (2006.45, 9.4), (2006.50, 9.1), (2006.55, 8.8), (2006.60, 8.6), (2006.64, 8.8), (2006.68, 8.9), (2006.72, 9.2), (2006.74, 9.8), (2006.76, 9.0), None,
           (2007.28, 12.0), (2007.31, 11.0), (2007.35, 10.2), (2007.40, 9.5), (2007.45, 9.2), (2007.50, 9.0), (2007.54, 8.8), (2007.58, 8.6), (2007.62, 8.7), (2007.66, 8.5), (2007.70, 8.8), (2007.74, 9.0), (2007.78, 9.2), (2007.81, 9.6), (2007.84, 10.2), None,
           (2008.30, 11.6), (2008.33, 11.0), (2008.36, 10.4), (2008.40, 9.7), (2008.44, 9.2), (2008.48, 8.9), (2008.52, 8.7), (2008.56, 8.5), (2008.60, 8.6), (2008.64, 8.7), (2008.68, 8.9), (2008.72, 9.2), (2008.76, 9.5), (2008.80, 10.0), (2008.83, 9.0), None,
           (2009.30, 11.2), (2009.31, 12.2), (2009.34, 11.3), (2009.38, 10.8), (2009.42, 10.5), (2009.46, 10.2), (2009.50, 10.0), (2009.55, 9.7), (2009.60, 9.5), (2009.65, 9.3), (2009.70, 9.1), (2009.74, 8.9), (2009.755, 8.5), (2009.76, 9.3)]
sp_red = [(2005.31, 11.8), (2005.37, 10.9), (2005.42, 10.0), (2005.48, 8.7), (2005.53, 7.4), (2005.59, 6.2), (2005.64, 5.1), (2005.69, 4.2), (2005.73, 3.4), (2005.78, 2.3), (2005.82, 0.9), (2005.825, 8.2), None,
          (2006.29, 12.0), (2006.36, 10.6), (2006.43, 9.1), (2006.49, 7.7), (2006.55, 6.3), (2006.60, 4.8), (2006.64, 3.4), (2006.67, 2.3), (2006.70, 1.1), (2006.73, 0.9), (2006.735, 2.8), None,
          (2007.28, 12.3), (2007.34, 9.5), (2007.41, 7.1), (2007.50, 5.4), (2007.57, 3.4), (2007.63, 1.1), (2007.68, 0.3), (2007.72, 0.6), (2007.76, 0.3), (2007.80, 0.5), (2007.805, 7.2), None,
          (2008.30, 11.9), (2008.36, 10.5), (2008.43, 9.1), (2008.52, 6.9), (2008.60, 4.0), (2008.67, 1.7), (2008.72, 0.3), (2008.80, 0.2), (2008.805, 5.5), None,
          (2009.31, 12.0), (2009.42, 10.3), (2009.56, 8.9), (2009.67, 7.1), (2009.74, 5.1), (2009.745, 4.5)]
sp_band = [(2005.00, 11.4, 12.9), (2005.10, 10.4, 12.5), (2005.20, 9.5, 12.2), (2005.28, 8.9, 11.9), None,
           (2005.31, 11.8, 12.0), (2005.34, 9.0, 11.6), (2005.51, 0.0, 9.7), (2005.83, 0.0, 6.0), None,
           (2005.89, 12.4, 12.6), (2006.00, 11.0, 12.3), (2006.10, 9.9, 12.1), (2006.20, 9.0, 11.9), (2006.28, 8.3, 11.8), None,
           (2006.29, 8.6, 12.0), (2006.45, 4.5, 9.5), (2006.62, 0.3, 7.0), (2006.75, 0.0, 5.1), None,
           (2006.91, 12.8, 13.0), (2007.00, 11.5, 12.7), (2007.10, 10.2, 12.4), (2007.20, 9.1, 12.2), (2007.28, 8.3, 12.0), None,
           (2007.28, 8.3, 12.3), (2007.40, 5.0, 10.2), (2007.54, 0.0, 8.9), (2007.80, 0.0, 6.9), None,
           (2007.92, 12.3, 12.5), (2008.00, 11.0, 12.3), (2008.10, 9.8, 12.1), (2008.20, 8.8, 11.9), (2008.30, 8.0, 11.6), None,
           (2008.30, 8.0, 11.9), (2008.42, 4.0, 9.8), (2008.54, 0.0, 8.3), (2008.81, 0.0, 6.6), None,
           (2008.90, 12.0, 12.2), (2009.00, 10.7, 11.9), (2009.10, 9.5, 11.7), (2009.20, 8.5, 11.5), (2009.30, 7.7, 11.2), None,
           (2009.31, 7.7, 12.0), (2009.45, 5.0, 10.5), (2009.56, 2.5, 9.7), (2009.71, 0.0, 8.3), (2009.75, 0.0, 8.3)]
sp_obs_epi = [(2005.03, 12.9), (2005.14, 11.5), (2005.24, 11.3), (2005.33, 12.7), (2005.37, 11.5), (2005.42, 10.9), (2005.48, 9.7), (2005.53, 9.1), (2005.60, 8.7), (2005.67, 8.5), (2005.71, 8.7), (2005.78, 10.3), (2005.88, 8.9),
              (2006.05, 10.9), (2006.14, 10.0), (2006.23, 9.7), (2006.32, 12.0), (2006.37, 11.1), (2006.41, 10.3), (2006.48, 9.7), (2006.55, 9.4), (2006.62, 8.9), (2006.68, 9.1), (2006.75, 9.7), (2006.80, 9.1),
              (2007.05, 11.7), (2007.16, 10.4), (2007.23, 10.9), (2007.30, 12.2), (2007.36, 10.9), (2007.43, 9.8), (2007.57, 8.6), (2007.63, 8.9), (2007.70, 8.9), (2007.77, 9.4), (2007.83, 10.3),
              (2008.06, 10.9), (2008.15, 10.0), (2008.22, 9.7), (2008.31, 11.4), (2008.38, 11.1), (2008.43, 10.6), (2008.52, 9.4), (2008.61, 8.6), (2008.67, 8.9), (2008.76, 9.4), (2008.86, 10.3),
              (2009.06, 10.9), (2009.15, 10.3), (2009.24, 10.4), (2009.31, 12.3), (2009.35, 12.3), (2009.44, 10.6), (2009.51, 10.3), (2009.58, 10.0), (2009.65, 9.4), (2009.71, 9.1), (2009.78, 8.3), (2009.83, 9.1), (2009.89, 10.0)]
sp_obs_hyp = [(2005.36, 11.1), (2005.48, 8.6), (2005.53, 7.7), (2005.57, 6.9), (2005.62, 6.0), (2005.67, 5.4), (2005.71, 4.3), (2005.75, 3.7),
              (2006.30, 7.4), (2006.34, 6.9), (2006.39, 6.6), (2006.46, 6.0), (2006.52, 5.4), (2006.59, 4.9), (2006.64, 4.0), (2006.67, 3.4), (2006.71, 2.3),
              (2007.34, 9.1), (2007.41, 7.4), (2007.50, 6.3), (2007.57, 6.3), (2007.63, 5.7), (2007.68, 4.6), (2007.72, 3.4), (2007.77, 2.3), (2007.79, 0.3),
              (2008.33, 8.9), (2008.38, 8.6), (2008.45, 8.0), (2008.52, 7.1), (2008.58, 6.3), (2008.63, 5.4), (2008.70, 4.9), (2008.74, 4.0), (2008.79, 3.4), (2008.81, 1.7),
              (2009.38, 9.4), (2009.42, 8.6), (2009.47, 7.7), (2009.51, 7.4), (2009.56, 6.9), (2009.60, 6.0), (2009.65, 5.6), (2009.68, 4.6), (2009.71, 3.4), (2009.74, 1.1)]
sp_rmse = ("1.09", "2.77")

years = [2005, 2006, 2007, 2008, 2009, 2010]

# colours
GREY = '#cbcbcb'
LINE_BLUE = '#1f3cf2'
PT_BLUE = '#7482f2'
LINE_RED = '#f0201c'
PT_RED = '#f07878'
TXT_BLUE = '#2f7be6'
TXT_RED = '#e8161a'


def segments(seq):
    # split a list of tuples at the None markers
    out, cur = [], []
    for p in list(seq) + [None]:
        if p is None:
            if cur:
                out.append(np.array(cur, dtype=float))
            cur = []
        else:
            cur.append(p)
    return out


def draw_panel(ax, label, black, blue, red, band, obs_epi, obs_hyp, rmse):
    for s in segments(band):
        ax.fill_between(s[:, 0], s[:, 1], s[:, 2], color=GREY, lw=0, zorder=1)
        # dotted outline: pinkish for the hypolimnion wedges, grey otherwise
        edge = '#f2a0a0' if s[:, 1].min() <= 0.0 else '#b4b4b4'
        ax.plot(s[:, 0], s[:, 1], ls=':', color=edge, lw=0.7, zorder=1.5)
        ax.plot(s[:, 0], s[:, 2], ls=':', color=edge, lw=0.7, zorder=1.5)
    ax.axhline(1, color='#9a9a9a', ls=(0, (3, 2)), lw=0.9, zorder=2)
    for s in segments(red):
        ax.plot(s[:, 0], s[:, 1], color=LINE_RED, lw=1.2, zorder=3)
    for s in segments(blue):
        ax.plot(s[:, 0], s[:, 1], color=LINE_BLUE, lw=0.9, zorder=3)
    for s in segments(black):
        ax.plot(s[:, 0], s[:, 1], color='black', lw=1.5, zorder=4)
    e = np.array(obs_epi)
    h = np.array(obs_hyp)
    ax.scatter(e[:, 0], e[:, 1], s=24, facecolors='none', edgecolors=PT_BLUE, linewidths=0.75, alpha=0.85, zorder=5)
    ax.scatter(h[:, 0], h[:, 1], s=24, facecolors='none', edgecolors=PT_RED, linewidths=0.75, alpha=0.85, zorder=5)

    ax.set_xlim(2004.88, 2010.11)
    ax.set_ylim(-0.8, 18.9)
    ax.set_xticks(years)
    ax.set_xticklabels([str(y) for y in years], fontsize=12)
    ax.set_yticks([0, 5, 10, 15])
    ax.set_yticklabels(['0', '5', '10', ''], fontsize=11, rotation=90, va='center')
    ax.tick_params(direction='out', length=4, width=0.8, color='#555555', pad=4, labelcolor='#222222')
    for sp in ax.spines.values():
        sp.set_color('#666666')
        sp.set_linewidth(0.9)

    ax.text(0.06, 0.905, label, transform=ax.transAxes, fontsize=12, ha='left', va='center', color='#222222')

    # "(a, b)" with coloured numbers, built from the right edge
    kw = dict(fontsize=12.5, family=['Lato', 'DejaVu Sans'])
    t = ax.text(0.985, 0.89, ')', transform=ax.transAxes, ha='right', va='center', color='#222222', **kw)
    t = ax.annotate(rmse[1], xy=(0, 0), xycoords=t, ha='right', va='bottom', color=TXT_RED, **kw)
    t = ax.annotate(', ', xy=(0, 0), xycoords=t, ha='right', va='bottom', color='#222222', **kw)
    t = ax.annotate(rmse[0], xy=(0, 0), xycoords=t, ha='right', va='bottom', color=TXT_BLUE, **kw)
    ax.annotate('(', xy=(0, 0), xycoords=t, ha='right', va='bottom', color='#222222', **kw)


fig = plt.figure(figsize=(9.12, 5.30), dpi=100)

left_x, right_x, w, h = 0.0746, 0.561, 0.418, 0.219
rows = [0.7547, 0.4283, 0.1038]

panels = [
    ('(a) ME', me_black, me_blue, me_red, me_band, me_obs_epi, me_obs_hyp, me_rmse),
    ('(b) MO', mo_black, mo_blue, mo_red, mo_band, mo_obs_epi, mo_obs_hyp, mo_rmse),
    ('(c) TR', tr_black, tr_blue, tr_red, tr_band, tr_obs_epi, tr_obs_hyp, tr_rmse),
    ('(d) AL', al_black, al_blue, al_red, al_band, al_obs_epi, al_obs_hyp, al_rmse),
    ('(e) BM', bm_black, bm_blue, bm_red, bm_band, bm_obs_epi, bm_obs_hyp, bm_rmse),
    ('(f) SP', sp_black, sp_blue, sp_red, sp_band, sp_obs_epi, sp_obs_hyp, sp_rmse),
]

for i, p in enumerate(panels):
    r, c = divmod(i, 2)
    ax = fig.add_axes([left_x if c == 0 else right_x, rows[r], w, h])
    draw_panel(ax, *p)
    if c == 0:
        ax.set_ylabel('DO (g m$^{\\mathrm{-3}}$)', fontsize=12, color='#222222')
        ax.yaxis.set_label_coords(-0.108, 0.43)
    if r == 2:
        ax.set_xlabel('Date', fontsize=12.5, color='#222222', labelpad=6)

fig.savefig('out.png', dpi=100)
